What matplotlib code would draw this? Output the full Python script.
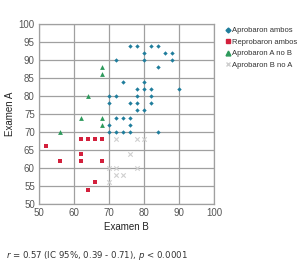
import matplotlib
matplotlib.use("Agg")
import matplotlib.pyplot as plt
from matplotlib.lines import Line2D

# Examen B (x), Examen A (y) per group
ambos_b = [76, 78, 82, 84, 80, 86, 88, 72, 80, 88, 84, 74, 80, 78, 80, 82, 90,
           70, 72, 78, 82, 70, 76, 78, 82, 78, 80, 72, 74, 76, 70, 76, 70, 72, 74, 76, 84]
ambos_a = [94, 94, 94, 94, 92, 92, 92, 90, 90, 90, 88, 84, 84, 82, 82, 82, 82,
           80, 80, 80, 80, 78, 78, 78, 78, 76, 76, 74, 74, 74, 72, 72, 70, 70, 70, 70, 70]

reprob_b = [52, 56, 62, 64, 66, 68, 62, 62, 68, 66, 64]
reprob_a = [66, 62, 68, 68, 68, 68, 64, 62, 62, 56, 54]

a_no_b_b = [56, 62, 64, 68, 68, 68, 68]
a_no_b_a = [70, 74, 80, 74, 72, 86, 88]

b_no_a_b = [72, 78, 80, 76, 70, 72, 78, 72, 74, 70]
b_no_a_a = [68, 68, 68, 64, 60, 60, 60, 58, 58, 56]

labels = ["Aprobaron ambos", "Reprobaron ambos", "Aprobaron A no B", "Aprobaron B no A"]
colors = ["#1f7d9c", "#d3203c", "#2e9a5c", "#cfcfcf"]

narrow = "Liberation Sans"

fig = plt.figure(figsize=(3.0, 2.73), dpi=100)
ax = fig.add_axes([0.13, 0.253, 0.583, 0.659])

ax.scatter(ambos_b, ambos_a, marker="D", s=5, color=colors[0], zorder=3, linewidths=0)
ax.scatter(reprob_b, reprob_a, marker="s", s=12, color=colors[1], zorder=3, linewidths=0)
ax.scatter(a_no_b_b, a_no_b_a, marker="^", s=12, color=colors[2], zorder=3, linewidths=0)
ax.scatter(b_no_a_b, b_no_a_a, marker="x", s=10, color=colors[3], zorder=3, linewidths=0.8)

ax.set_xlim(50, 100)
ax.set_ylim(50, 100)
ax.set_xticks(range(50, 101, 10))
ax.set_yticks(range(50, 101, 5))
ax.grid(True, color="#a0a0a0", linewidth=0.9)
ax.set_axisbelow(True)
ax.tick_params(length=0, labelsize=7, labelcolor="#555555", pad=3)
for lab in ax.get_xticklabels() + ax.get_yticklabels():
    lab.set_family(narrow)
for s in ax.spines.values():
    s.set_color("#a0a0a0")
    s.set_linewidth(0.9)

ax.set_xlabel("Examen B", fontsize=7, family=narrow, color="#222222", labelpad=3)
ax.set_ylabel("Examen A", fontsize=7, family=narrow, color="#222222", labelpad=3)

handles = [
    Line2D([], [], marker="D", linestyle="", color=colors[0], markersize=2.5),
    Line2D([], [], marker="s", linestyle="", color=colors[1], markersize=3.5),
    Line2D([], [], marker="^", linestyle="", color=colors[2], markersize=3.5),
    Line2D([], [], marker="x", linestyle="", color=colors[3], markersize=3.5),
]
fig.legend(handles, labels, loc="upper left", bbox_to_anchor=(0.74, 0.915),
           frameon=False, prop={"family": narrow, "size": 5.5}, labelcolor="#333333",
           handlelength=0.5, handletextpad=0.25, labelspacing=0.55, borderpad=0)

fig.text(0.02, 0.055, r"$r$ = 0.57 (IC 95%, 0.39 - 0.71), $p$ < 0.0001",
         fontsize=6.2, color="#333333", family="DejaVu Sans")

fig.savefig("out.png", dpi=100)
